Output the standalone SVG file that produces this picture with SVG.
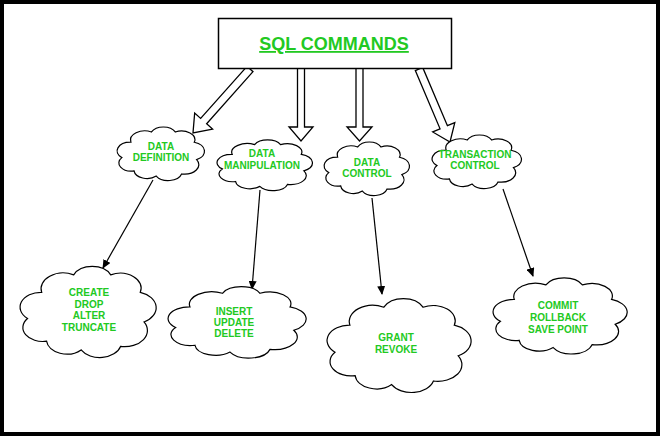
<svg xmlns="http://www.w3.org/2000/svg" xmlns:xlink="http://www.w3.org/1999/xlink" width="660" height="436" viewBox="0 0 660 436">
<style>
.cloud{fill:#fff;stroke:#000;stroke-width:1.2;vector-effect:non-scaling-stroke}
.lbl{font-family:"Liberation Sans",Arial,sans-serif;font-weight:bold;font-size:10px;fill:#22c922;text-anchor:middle}
.title{font-family:"Liberation Sans",Arial,sans-serif;font-weight:bold;font-size:18px;fill:#22c922;text-anchor:middle;text-decoration:underline}
.block{fill:#fff;stroke:#000;stroke-width:1.3;stroke-linejoin:miter}
.thin{fill:none;stroke:#000;stroke-width:1.2;marker-end:url(#ah)}
</style>
<defs>
<path id="cloudShape" class="cloud" d="M5.5,57.2 A15.3,15.3 0 0 1 15.8,30.2 A16.2,16.2 0 0 1 39.2,12.2 A14.85,14.85 0 0 1 66.2,12.2 A15.3,15.3 0 0 1 87.8,30.2 A16.65,16.65 0 0 1 90.5,60.8 A16.65,16.65 0 0 1 73.4,86 A15.75,15.75 0 0 1 44.6,89.6 A14.85,14.85 0 0 1 19.4,80.6 A14.4,14.4 0 0 1 5.5,57.2 Z"/>
<marker id="ah" markerWidth="9" markerHeight="8" refX="8" refY="4" orient="auto" markerUnits="userSpaceOnUse">
<path d="M0,0 L9,4 L0,8 Z" fill="#000"/>
</marker>
</defs>
<rect x="0" y="0" width="660" height="436" fill="#fff"/>
<rect x="2" y="2" width="656" height="432" fill="none" stroke="#000" stroke-width="4"/>

<g id="connectors">
<polygon class="block" points="247.01,66.34 200.65,118.39 194.68,113.07 193,133 212.6,129.03 206.63,123.71 252.99,71.66"/>
<polygon class="block" points="297.5,68 297.5,127 289,127 301,141 313,127 304.5,127 304.5,68"/>
<polygon class="block" points="356,68 356,127 347,127 359.5,141 372,127 363,127 363,68"/>
<polygon class="block" points="415.32,70.56 440.06,128.82 432.69,131.95 450,142 454.79,122.57 447.42,125.70 422.68,67.44"/>
<line class="thin" x1="153" y1="180" x2="103" y2="268"/>
<line class="thin" x1="260" y1="190" x2="252" y2="289"/>
<line class="thin" x1="372" y1="198" x2="382" y2="294"/>
<line class="thin" x1="503" y1="189" x2="533" y2="276"/>
</g>

<g id="sql-commands">
<rect x="218.5" y="18.5" width="233" height="50" fill="#fff" stroke="#000" stroke-width="1.5"/>
<text class="title" x="334" y="50">SQL COMMANDS</text>
</g>

<g id="data-definition">
<use xlink:href="#cloudShape" transform="translate(117,125) scale(0.88,0.57)"/>
<text class="lbl" x="161" y="150">DATA</text>
<text class="lbl" x="161" y="161">DEFINITION</text>
</g>
<g id="data-manipulation">
<use xlink:href="#cloudShape" transform="translate(217,138) scale(0.96,0.54)"/>
<text class="lbl" x="262" y="157">DATA</text>
<text class="lbl" x="262" y="169">MANIPULATION</text>
</g>
<g id="data-control">
<use xlink:href="#cloudShape" transform="translate(324,140) scale(0.86,0.57)"/>
<text class="lbl" x="367" y="166">DATA</text>
<text class="lbl" x="367" y="177">CONTROL</text>
</g>
<g id="transaction-control">
<use xlink:href="#cloudShape" transform="translate(432,133) scale(0.9,0.57)"/>
<text class="lbl" x="475" y="158">TRANSACTION</text>
<text class="lbl" x="475" y="169">CONTROL</text>
</g>

<g id="ddl-commands">
<use xlink:href="#cloudShape" transform="translate(20,263) scale(1.37,0.97)"/>
<text class="lbl" x="89" y="296">CREATE</text>
<text class="lbl" x="89" y="307.5">DROP</text>
<text class="lbl" x="89" y="319">ALTER</text>
<text class="lbl" x="89" y="331">TRUNCATE</text>
</g>
<g id="dml-commands">
<use xlink:href="#cloudShape" transform="translate(168,284) scale(1.39,0.76)"/>
<text class="lbl" x="234" y="315">INSERT</text>
<text class="lbl" x="234" y="326">UPDATE</text>
<text class="lbl" x="234" y="337">DELETE</text>
</g>
<g id="dcl-commands">
<use xlink:href="#cloudShape" transform="translate(327,295) scale(1.45,1.0)"/>
<text class="lbl" x="396" y="341">GRANT</text>
<text class="lbl" x="396" y="353">REVOKE</text>
</g>
<g id="tcl-commands">
<use xlink:href="#cloudShape" transform="translate(493,275) scale(1.35,0.81)"/>
<text class="lbl" x="558" y="309">COMMIT</text>
<text class="lbl" x="558" y="321">ROLLBACK</text>
<text class="lbl" x="558" y="333">SAVE POINT</text>
</g>
</svg>
